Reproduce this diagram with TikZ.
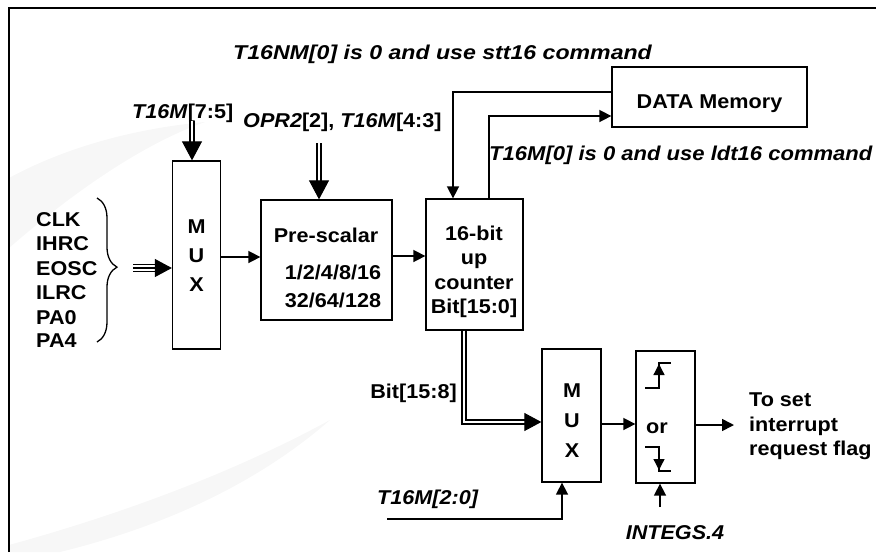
\documentclass[tikz,border=0pt]{standalone}
\usepackage{fontspec}
\setmainfont[FakeStretch=1.08]{Liberation Sans}
\usetikzlibrary{arrows.meta,decorations.pathreplacing}
\begin{document}
\begin{tikzpicture}[x=1pt,y=-1pt,
  font=\fontsize{20}{24}\selectfont\bfseries,
  every node/.style={inner sep=0pt},
  box/.style={draw, line width=1.3pt, inner sep=0pt},
  arr/.style={line width=1.6pt, -{Triangle[length=12pt,width=12pt]}},
  dblA/.style={draw, double, double distance=1.8pt, line width=1.7pt},
  dblB/.style={draw, double, double distance=2.5pt, line width=2pt},
  bighead/.style={line width=1pt, -{Triangle[length=19pt,width=20pt]}},
  midhead/.style={line width=1pt, -{Triangle[length=17pt,width=18pt]}},
  edgeln/.style={line width=1.3pt},
  edgearr/.style={line width=1.3pt, -{Triangle[length=11pt,width=11pt]}},
  txt/.style={anchor=base}]
\useasboundingbox (0,0) rectangle (876,552);
% faint watermark
\fill[black!3] (9,178) .. controls (70,145) and (140,128) .. (205,122)
  .. controls (140,145) and (70,195) .. (9,248) -- cycle;
\fill[black!3] (9,545) .. controls (100,520) and (220,480) .. (330,420)
  .. controls (250,490) and (150,530) .. (60,552) -- (9,552) -- cycle;
% frame
\draw[line width=2pt] (9,552) -- (9,8) -- (876,8);

% boxes
\node[box, minimum width=48pt, minimum height=188pt] (mux1) at (196.5,255) {};
\node[box, minimum width=131pt, minimum height=120pt] (pre) at (326.5,260) {};
\node[box, minimum width=97pt, minimum height=131pt] (cnt) at (474.5,264.5) {};
\node[box, minimum width=195pt, minimum height=60pt] (dm) at (709.5,97) {};
\node[box, minimum width=59pt, minimum height=133pt] (mux2) at (571.5,415.5) {};
\node[box, minimum width=59pt, minimum height=132pt] (edge) at (665.5,417) {};

% box texts
\node[txt] (m1a) at (196.5,233) {M};
\node[txt] (m1b) at (196.5,262) {U};
\node[txt] (m1c) at (196.5,291) {X};
\node[txt] (preT) at (326,242) {Pre-scalar};
\node[txt] (preA) at (333,279) {1/2/4/8/16};
\node[txt] (preB) at (333,307) {32/64/128};
\node[txt] (cntA) at (474,240) {16-bit};
\node[txt] (cntB) at (474,264.5) {up};
\node[txt] (cntC) at (474,289) {counter};
\node[txt] (cntD) at (474,313.5) {Bit[15:0]};
\node[txt] (dmT) at (709.5,108) {DATA Memory};
\node[txt] (m2a) at (572,397) {M};
\node[txt] (m2b) at (572,427) {U};
\node[txt] (m2c) at (572,457) {X};
\node[txt] (orT) at (657,433) {or};

% inputs
\node[anchor=base west] (in1) at (36,226) {CLK};
\node[anchor=base west] (in2) at (36,250) {IHRC};
\node[anchor=base west] (in3) at (36,275) {EOSC};
\node[anchor=base west] (in4) at (36,299) {ILRC};
\node[anchor=base west] (in5) at (36,324) {PA0};
\node[anchor=base west] (in6) at (36,347) {PA4};
\draw[line width=1.3pt, decorate, decoration={brace, amplitude=20pt, aspect=0.48}] (97,198) -- (97,342);

% labels
\node[anchor=base west] (l1) at (233,59) {\scalebox{1.07}[1]{\itshape T16NM[0] is 0 and use stt16 command}};
\node[anchor=base west] (l2) at (489,160) {\scalebox{1.02}[1]{\itshape T16M[0] is 0 and use ldt16 command}};
\node[anchor=base west] (l3) at (132,118) {\textit{T16M}[7:5]};
\node[anchor=base west] (l4) at (243,127) {\textit{OPR2}[2], \textit{T16M}[4:3]};
\node[anchor=base east] (l5) at (457,398) {Bit[15:8]};
\node[anchor=base west] (l6) at (377,504) {\itshape T16M[2:0]};
\node[anchor=base] (l7) at (675,539) {\itshape INTEGS.4};
\node[anchor=base west] (o1) at (749,406) {To set};
\node[anchor=base west] (o2) at (749,431) {interrupt};
\node[anchor=base west] (o3) at (749,455) {request flag};

% connectors
\draw[arr] (mux1.east |- 0,257) -- (pre.west |- 0,257);
\draw[arr] (pre.east |- 0,256) -- (cnt.west |- 0,256);

\coordinate (c3) at (453,92);
\draw[arr] (dm.west |- c3) -- (c3) -- (c3 |- cnt.north);
\coordinate (c2) at (489,116);
\draw[arr] (c2 |- cnt.north) -- (c2) -- (dm.west |- c2);

% double arrows from top
\coordinate (a1) at (192,121);
\coordinate (a1h) at (192,142);
\draw[dblA] (a1) -- (192,146);
\draw[bighead] (a1h) -- (a1h |- mux1.north);
\coordinate (a2) at (319,143);
\coordinate (a2h) at (319,181);
\draw[dblA] (a2) -- (319,185);
\draw[bighead] (a2h) -- (a2h |- pre.north);

% triple input arrow
\coordinate (a3) at (133,268);
\coordinate (a3e) at (155,268);
\draw[line width=1.3pt] ([yshift=3.3pt]a3) -- ([yshift=3.3pt]a3e);
\draw[line width=1.3pt] (a3) -- (a3e);
\draw[line width=1.3pt] ([yshift=-3.3pt]a3) -- ([yshift=-3.3pt]a3e);
\draw[midhead] (a3e) -- (mux1.west |- a3e);

% counter to mux2 (double)
\coordinate (c1) at (464,422);
\coordinate (c1s) at (529,422);
\coordinate (c1h) at (525,422);
\draw[dblB] (c1 |- cnt.south) -- (c1) -- (c1s);
\draw[midhead] (c1h) -- (mux2.west |- c1h);

% T16M[2:0]
\coordinate (t20) at (387,519);
\coordinate (t20c) at (562,519);
\draw[arr] (t20) -- (t20c) -- (t20c |- mux2.south);

% mux2 -> edge -> out
\draw[arr] (mux2.east |- 0,424) -- (edge.west |- 0,424);
\coordinate (outE) at (734,425);
\draw[arr] (edge.east |- outE) -- (outE);
\coordinate (ig) at (660,507);
\draw[arr] (ig) -- (ig |- edge.south);

% edge symbols
\draw[edgeln] (645,388) -- (659,388) -- (659,363) -- (671,363);
\draw[edgearr] (659,388) -- (659,364);
\draw[edgeln] (645,447) -- (659,447) -- (659,471) -- (671,471);
\draw[edgearr] (659,447) -- (659,470);
\end{tikzpicture}
\end{document}
